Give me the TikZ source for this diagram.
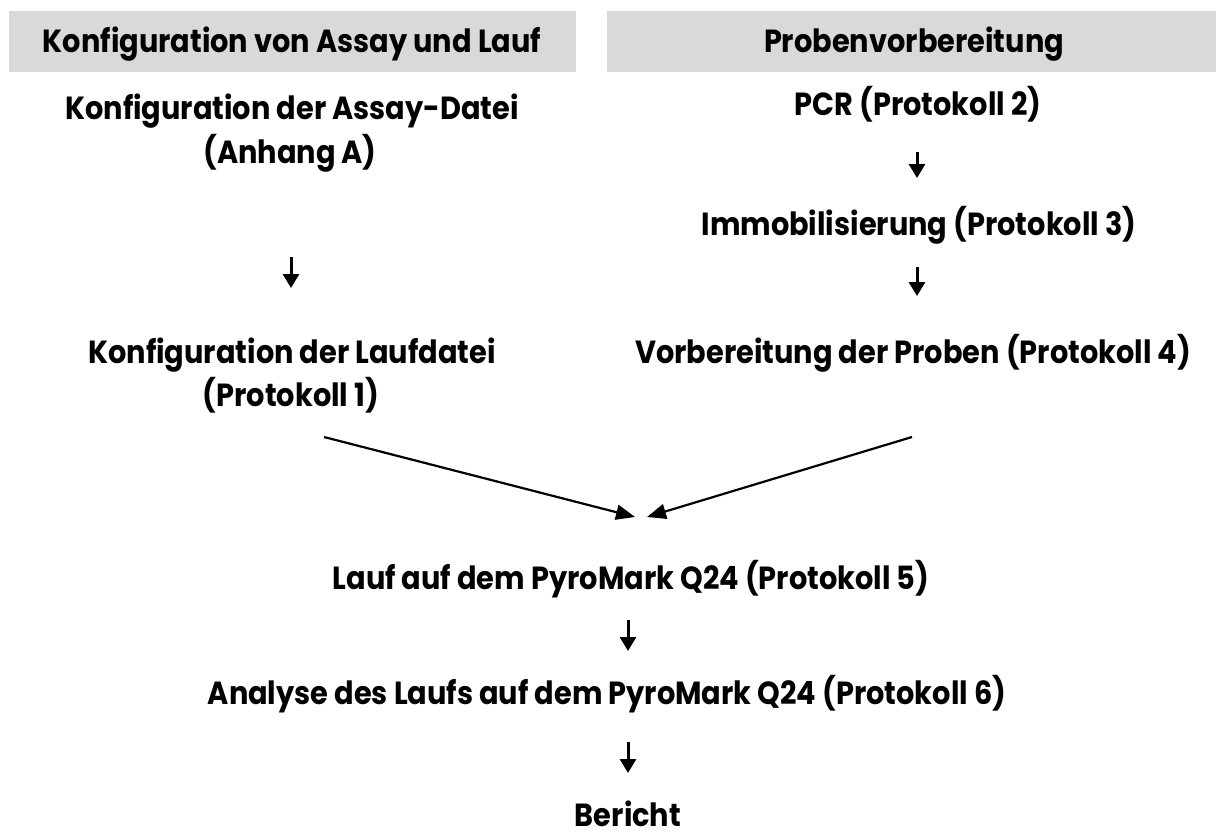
\documentclass[tikz,border=0pt]{standalone}
\usepackage{fontspec}
\newfontfamily\ff{Poppins}[FakeStretch=0.9]
\usetikzlibrary{arrows.meta}
\definecolor{barfill}{HTML}{D9D9D9}
\begin{document}
\begin{tikzpicture}[x=1pt,y=-1pt,
  lbl/.style={anchor=base, inner sep=0pt, font=\ff\bfseries\fontsize{32}{36}\selectfont},
  bar/.style={fill=barfill, draw=none, inner sep=0pt},
  sarrow/.style={-{Triangle[width=16pt,length=14pt]}, line width=3pt},
  darrow/.style={-{Triangle[width=15pt,length=19pt]}, line width=2.2pt}]
\useasboundingbox (0,0) rectangle (1216,835);
% header bars
\node[bar, minimum width=567pt, minimum height=61pt] (barL) at (292.5,41.5) {};
\node[bar, minimum width=609pt, minimum height=61pt] (barR) at (911.5,41.5) {};
\node[lbl] (hL) at (292,52.5) {Konfiguration von Assay und Lauf};
\node[lbl] (hR) at (914,52.5) {Probenvorbereitung};
% left column
\node[lbl] (a1) at (292,119) {Konfiguration der Assay-Datei};
\node[lbl] (a2) at (290,163) {(Anhang A)};
\node[lbl] (l1) at (292,363) {Konfiguration der Laufdatei};
\node[lbl] (l2) at (291,406) {(Protokoll 1)};
% right column
\node[lbl] (p) at (918,115) {PCR (Protokoll 2)};
\node[lbl] (im) at (919,235) {Immobilisierung (Protokoll 3)};
\node[lbl] (vb) at (913,363) {Vorbereitung der Proben (Protokoll 4)};
% center column
\node[lbl] (run) at (631,589) {Lauf auf dem PyroMark Q24 (Protokoll 5)};
\node[lbl] (an) at (607,704) {Analyse des Laufs auf dem PyroMark Q24 (Protokoll 6)};
\node[lbl] (ber) at (628,826) {Bericht};
% arrow end points
\coordinate (la1) at (291,257); \coordinate (la2) at (291,288);
\coordinate (ra1) at (917,152); \coordinate (ra2) at (917,178);
\coordinate (rb1) at (917,267); \coordinate (rb2) at (917,296);
\coordinate (ca1) at (628,620); \coordinate (ca2) at (628,651);
\coordinate (cb1) at (628,742); \coordinate (cb2) at (628,773);
\coordinate (dl1) at (324,437); \coordinate (dl2) at (635,517);
\coordinate (dr1) at (912,437); \coordinate (dr2) at (647,517);
\draw[sarrow] (la1) -- (la2);
\draw[sarrow] (ra1) -- (ra2);
\draw[sarrow] (rb1) -- (rb2);
\draw[sarrow] (ca1) -- (ca2);
\draw[sarrow] (cb1) -- (cb2);
\draw[darrow] (dl1) -- (dl2);
\draw[darrow] (dr1) -- (dr2);
\end{tikzpicture}
\end{document}
